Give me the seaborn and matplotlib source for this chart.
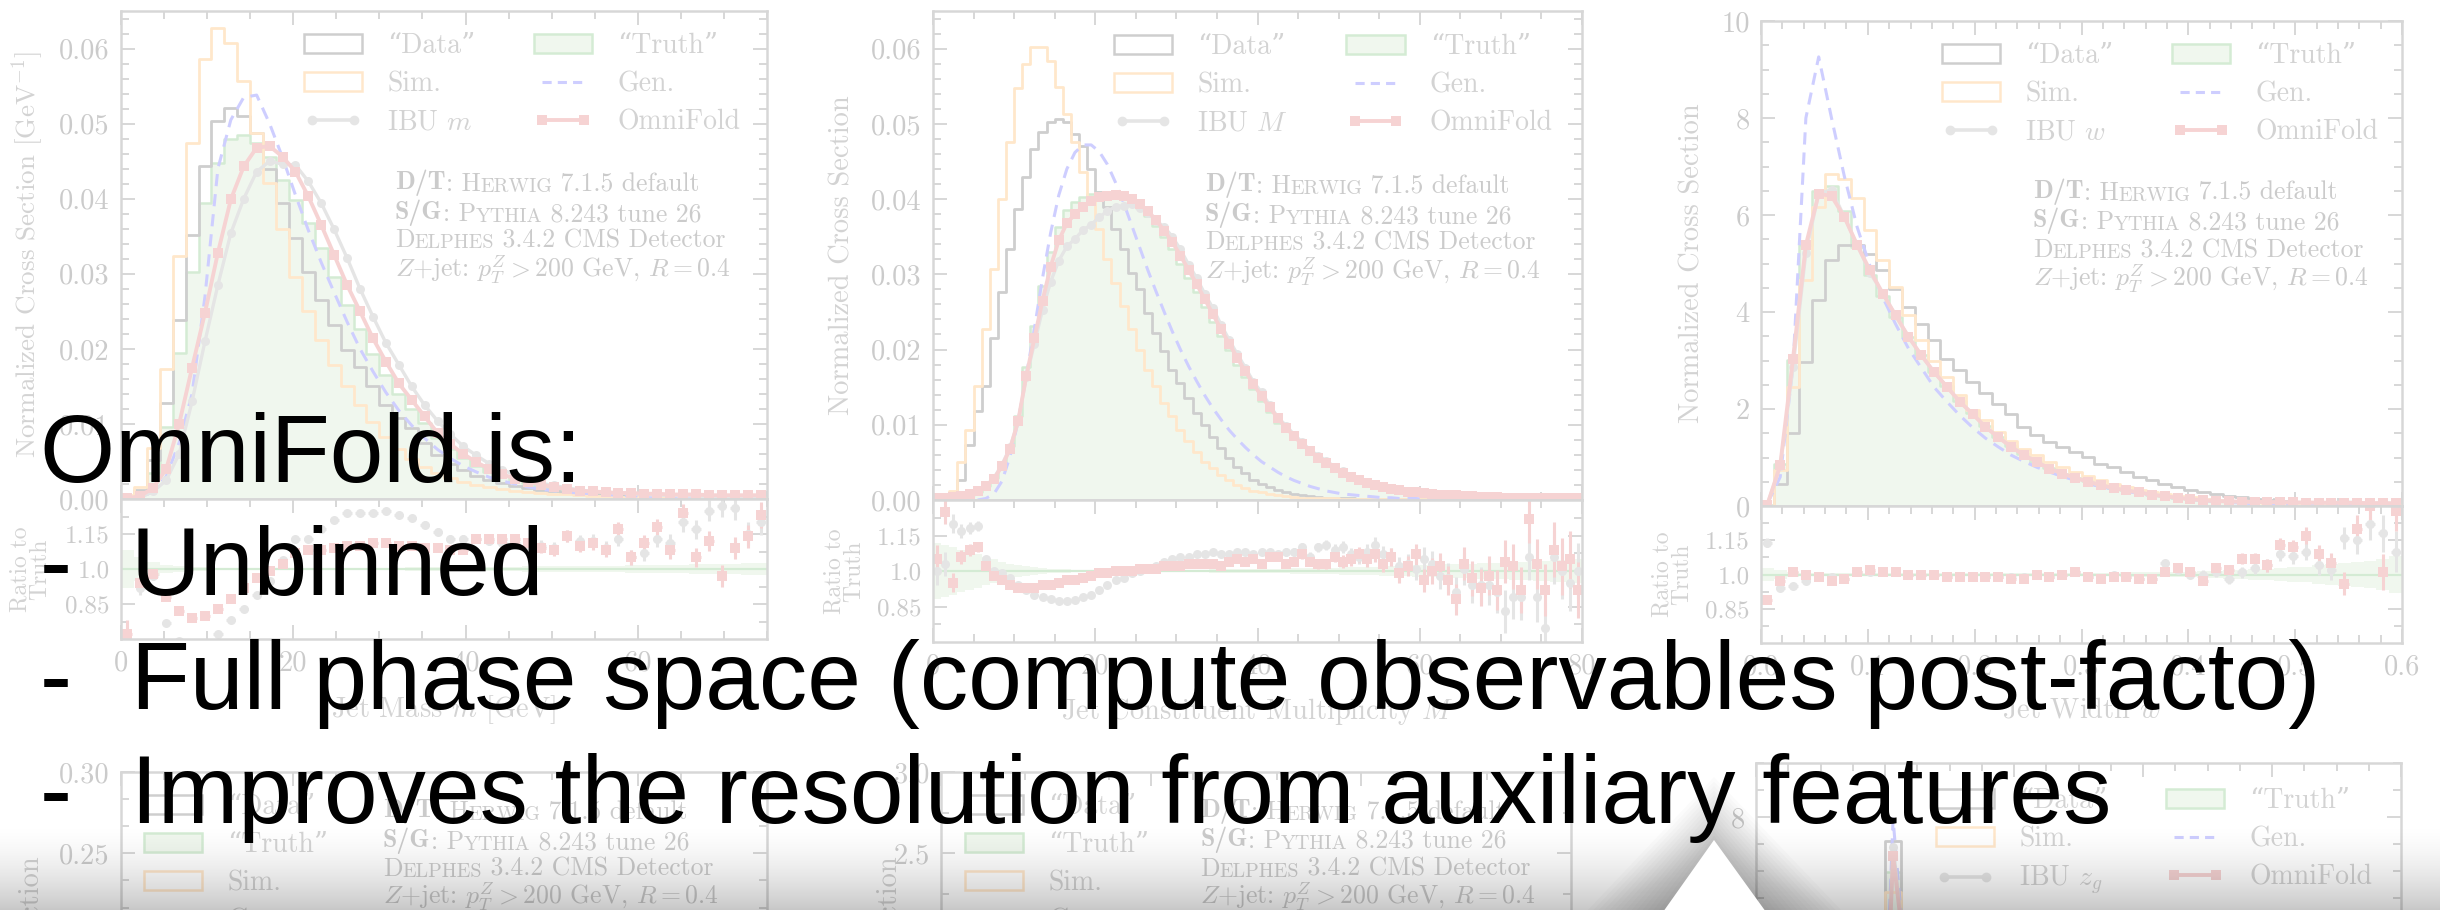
import numpy as np
import pandas as pd
import matplotlib
matplotlib.use("Agg")
import matplotlib.pyplot as plt
import seaborn as sns
from matplotlib.lines import Line2D
from matplotlib.patches import Patch, Rectangle, Polygon
from matplotlib.ticker import MultipleLocator, FixedLocator, FormatStrFormatter, FixedFormatter

W, H = 2440, 910

# ---------------------------------------------------------------- jet mass m
mass_range = (0.0, 75.0)
mass_data = [0.0003, 0.0012, 0.0052, 0.0128, 0.0239, 0.0352, 0.0443, 0.0503, 0.0521, 0.0510,
             0.0488, 0.0439, 0.0394, 0.0348, 0.0303, 0.0265, 0.0232, 0.0199, 0.0176, 0.0150,
             0.0125, 0.0108, 0.0094, 0.0074, 0.0058, 0.0047, 0.0038, 0.0031, 0.0025, 0.0021,
             0.0017, 0.0014, 0.0012, 0.0010, 0.0008, 0.0007, 0.0006, 0.0005, 0.0005, 0.0004,
             0.0004, 0.0003, 0.0003, 0.0003, 0.0002, 0.0002, 0.0002, 0.0002, 0.0001, 0.0001]
mass_sim = [0.0005, 0.0016, 0.0068, 0.0173, 0.0324, 0.0474, 0.0586, 0.0627, 0.0608, 0.0557,
            0.0488, 0.0421, 0.0359, 0.0296, 0.0250, 0.0212, 0.0179, 0.0150, 0.0125, 0.0103,
            0.0082, 0.0066, 0.0053, 0.0043, 0.0035, 0.0028, 0.0023, 0.0019, 0.0016, 0.0013,
            0.0011, 0.0009, 0.0008, 0.0007, 0.0006, 0.0005, 0.0004, 0.0004, 0.0003, 0.0003,
            0.0003, 0.0002, 0.0002, 0.0002, 0.0002, 0.0001, 0.0001, 0.0001, 0.0001, 0.0001]
mass_truth = [0.0002, 0.0008, 0.0035, 0.0096, 0.0194, 0.0303, 0.0394, 0.0448, 0.0479, 0.0485,
              0.0474, 0.0456, 0.0425, 0.0398, 0.0368, 0.0334, 0.0296, 0.0259, 0.0226, 0.0193,
              0.0165, 0.0140, 0.0120, 0.0101, 0.0081, 0.0067, 0.0055, 0.0044, 0.0036, 0.0030,
              0.0025, 0.0021, 0.0017, 0.0014, 0.0012, 0.0010, 0.0009, 0.0008, 0.0007, 0.0006,
              0.0006, 0.0005, 0.0005, 0.0004, 0.0004, 0.0004, 0.0003, 0.0003, 0.0003, 0.0003]
mass_gen = [0.0000, 0.0002, 0.0010, 0.0030, 0.0075, 0.0140, 0.0270, 0.0440, 0.0505, 0.0535,
            0.0538, 0.0500, 0.0455, 0.0405, 0.0358, 0.0315, 0.0275, 0.0236, 0.0200, 0.0170,
            0.0142, 0.0118, 0.0098, 0.0081, 0.0066, 0.0054, 0.0044, 0.0036, 0.0029, 0.0024,
            0.0020, 0.0016, 0.0013, 0.0011, 0.0009, 0.0008, 0.0007, 0.0006, 0.0005, 0.0004,
            0.0004, 0.0003, 0.0003, 0.0003, 0.0002, 0.0002, 0.0002, 0.0002, 0.0001, 0.0001]
mass_ibu = [0.0000, 0.0002, 0.0010, 0.0025, 0.0060, 0.0130, 0.0210, 0.0285, 0.0354, 0.0400,
            0.0436, 0.0450, 0.0446, 0.0445, 0.0423, 0.0394, 0.0359, 0.0321, 0.0280, 0.0243,
            0.0208, 0.0179, 0.0150, 0.0125, 0.0104, 0.0086, 0.0070, 0.0058, 0.0047, 0.0039,
            0.0032, 0.0026, 0.0021, 0.0018, 0.0015, 0.0012, 0.0010, 0.0009, 0.0008, 0.0007,
            0.0006, 0.0005, 0.0005, 0.0004, 0.0004, 0.0003, 0.0003, 0.0003, 0.0003, 0.0003]
mass_omnifold = [0.0001, 0.0004, 0.0015, 0.0040, 0.0100, 0.0175, 0.0248, 0.0328, 0.0399, 0.0443,
                 0.0468, 0.0470, 0.0456, 0.0436, 0.0403, 0.0365, 0.0325, 0.0285, 0.0250, 0.0214,
                 0.0183, 0.0154, 0.0132, 0.0110, 0.0088, 0.0073, 0.0060, 0.0049, 0.0040, 0.0033,
                 0.0027, 0.0023, 0.0019, 0.0016, 0.0013, 0.0011, 0.0010, 0.0009, 0.0008, 0.0008,
                 0.0007, 0.0007, 0.0006, 0.0006, 0.0006, 0.0005, 0.0005, 0.0005, 0.0005, 0.0005]
mass_ratio_omnifold = [0.72, 0.94, 0.98, 0.88, 0.82, 0.79, 0.80, 0.83, 0.87, 0.92,
                       0.96, 0.99, 1.02, 1.07, 1.08, 1.08, 1.09, 1.10, 1.10, 1.11,
                       1.11, 1.10, 1.10, 1.09, 1.09, 1.08, 1.08, 1.13, 1.13, 1.13,
                       1.13, 1.11, 1.09, 1.08, 1.14, 1.10, 1.11, 1.08, 1.17, 1.05,
                       1.11, 1.18, 1.08, 1.24, 1.05, 1.12, 0.97, 1.09, 1.14, 1.23]
mass_ratio_ibu = [0.66, 0.92, 0.97, 0.77, 0.69, 0.67, 0.67, 0.72, 0.78, 0.83,
                  0.89, 0.95, 1.04, 1.13, 1.13, 1.17, 1.21, 1.24, 1.24, 1.24,
                  1.25, 1.23, 1.22, 1.19, 1.16, 1.13, 1.13, 1.13, 1.12, 1.11,
                  1.11, 1.10, 1.10, 1.09, 1.14, 1.12, 1.12, 1.09, 1.13, 1.05,
                  1.07, 1.13, 1.11, 1.20, 1.17, 1.25, 1.27, 1.26, 1.15, 1.20]
mass_ratio_err = [0.060, 0.030, 0.016, 0.012, 0.010, 0.008, 0.007, 0.007, 0.007, 0.007,
                  0.007, 0.007, 0.007, 0.008, 0.008, 0.008, 0.009, 0.009, 0.010, 0.010,
                  0.011, 0.012, 0.013, 0.014, 0.015, 0.016, 0.017, 0.018, 0.019, 0.020,
                  0.021, 0.022, 0.023, 0.024, 0.026, 0.027, 0.028, 0.030, 0.031, 0.033,
                  0.034, 0.036, 0.038, 0.040, 0.042, 0.044, 0.046, 0.048, 0.050, 0.055]
mass_truth_unc = [0.080, 0.050, 0.030, 0.018, 0.012, 0.009, 0.007, 0.006, 0.005, 0.005,
                  0.005, 0.005, 0.005, 0.005, 0.005, 0.005, 0.005, 0.005, 0.006, 0.006,
                  0.006, 0.006, 0.007, 0.007, 0.007, 0.008, 0.008, 0.009, 0.009, 0.010,
                  0.010, 0.011, 0.011, 0.012, 0.012, 0.013, 0.014, 0.014, 0.015, 0.016,
                  0.016, 0.017, 0.018, 0.019, 0.020, 0.021, 0.022, 0.023, 0.024, 0.025]

# ---------------------------------------------------- constituent multiplicity M
mult_range = (0.0, 80.0)
mult_data = [0.0000, 0.0000, 0.0008, 0.0027, 0.0073, 0.0118, 0.0151, 0.0216, 0.0276, 0.0333,
             0.0387, 0.0429, 0.0467, 0.0489, 0.0502, 0.0507, 0.0502, 0.0487, 0.0471, 0.0440,
             0.0409, 0.0389, 0.0360, 0.0333, 0.0302, 0.0280, 0.0249, 0.0222, 0.0198, 0.0173,
             0.0156, 0.0136, 0.0116, 0.0100, 0.0084, 0.0069, 0.0056, 0.0044, 0.0036, 0.0027,
             0.0021, 0.0017, 0.0013, 0.0010, 0.0008, 0.0006, 0.0005, 0.0004, 0.0003, 0.0002,
             0.0002, 0.0002, 0.0001, 0.0001, 0.0001, 0.0001, 0.0001, 0.0001, 0.0001, 0.0001,
             0.0001, 0.0001, 0.0001, 0.0000, 0.0000, 0.0000, 0.0000, 0.0000, 0.0000, 0.0000,
             0.0000, 0.0000, 0.0000, 0.0000, 0.0000, 0.0000, 0.0000, 0.0000, 0.0000, 0.0000]
mult_sim = [0.0000, 0.0000, 0.0012, 0.0051, 0.0093, 0.0151, 0.0227, 0.0307, 0.0400, 0.0476,
            0.0547, 0.0580, 0.0602, 0.0602, 0.0584, 0.0549, 0.0513, 0.0476, 0.0436, 0.0400,
            0.0360, 0.0320, 0.0289, 0.0258, 0.0227, 0.0200, 0.0173, 0.0151, 0.0129, 0.0111,
            0.0093, 0.0078, 0.0064, 0.0051, 0.0042, 0.0033, 0.0027, 0.0020, 0.0016, 0.0012,
            0.0010, 0.0008, 0.0006, 0.0005, 0.0004, 0.0003, 0.0003, 0.0002, 0.0002, 0.0002,
            0.0001, 0.0001, 0.0001, 0.0001, 0.0001, 0.0001, 0.0001, 0.0001, 0.0001, 0.0001,
            0.0001, 0.0001, 0.0001, 0.0001, 0.0001, 0.0000, 0.0000, 0.0000, 0.0000, 0.0000,
            0.0000, 0.0000, 0.0000, 0.0000, 0.0000, 0.0000, 0.0000, 0.0000, 0.0000, 0.0000]
mult_truth = [0.0002, 0.0003, 0.0004, 0.0005, 0.0007, 0.0011, 0.0018, 0.0029, 0.0047, 0.0072,
              0.0112, 0.0177, 0.0231, 0.0284, 0.0330, 0.0363, 0.0385, 0.0396, 0.0403, 0.0407,
              0.0409, 0.0408, 0.0406, 0.0403, 0.0397, 0.0388, 0.0377, 0.0364, 0.0349, 0.0333,
              0.0314, 0.0295, 0.0276, 0.0256, 0.0236, 0.0218, 0.0199, 0.0180, 0.0163, 0.0147,
              0.0132, 0.0117, 0.0103, 0.0092, 0.0081, 0.0070, 0.0062, 0.0054, 0.0047, 0.0040,
              0.0035, 0.0030, 0.0026, 0.0022, 0.0019, 0.0017, 0.0014, 0.0013, 0.0011, 0.0010,
              0.0009, 0.0008, 0.0007, 0.0006, 0.0006, 0.0005, 0.0005, 0.0004, 0.0004, 0.0004,
              0.0003, 0.0003, 0.0003, 0.0003, 0.0003, 0.0002, 0.0002, 0.0002, 0.0002, 0.0002]
mult_gen = [0.0000, 0.0000, 0.0000, 0.0000, 0.0000, 0.0000, 0.0002, 0.0008, 0.0025, 0.0058,
            0.0105, 0.0165, 0.0228, 0.0295, 0.0355, 0.0405, 0.0440, 0.0462, 0.0472, 0.0472,
            0.0463, 0.0446, 0.0422, 0.0395, 0.0365, 0.0335, 0.0305, 0.0277, 0.0250, 0.0224,
            0.0200, 0.0178, 0.0158, 0.0139, 0.0122, 0.0107, 0.0093, 0.0081, 0.0070, 0.0060,
            0.0051, 0.0044, 0.0037, 0.0031, 0.0026, 0.0022, 0.0018, 0.0015, 0.0012, 0.0010,
            0.0008, 0.0007, 0.0006, 0.0005, 0.0004, 0.0003, 0.0003, 0.0002, 0.0002, 0.0002,
            0.0001, 0.0001, 0.0001, 0.0001, 0.0001, 0.0000, 0.0000, 0.0000, 0.0000, 0.0000,
            0.0000, 0.0000, 0.0000, 0.0000, 0.0000, 0.0000, 0.0000, 0.0000, 0.0000, 0.0000]
mult_ibu = [0.0002, 0.0003, 0.0005, 0.0006, 0.0008, 0.0013, 0.0019, 0.0029, 0.0047, 0.0070,
            0.0105, 0.0163, 0.0208, 0.0253, 0.0290, 0.0318, 0.0337, 0.0347, 0.0359, 0.0366,
            0.0376, 0.0384, 0.0390, 0.0391, 0.0393, 0.0388, 0.0381, 0.0371, 0.0363, 0.0350,
            0.0333, 0.0313, 0.0295, 0.0274, 0.0255, 0.0233, 0.0213, 0.0194, 0.0176, 0.0157,
            0.0143, 0.0126, 0.0110, 0.0099, 0.0087, 0.0077, 0.0066, 0.0059, 0.0052, 0.0044,
            0.0038, 0.0032, 0.0028, 0.0024, 0.0021, 0.0018, 0.0015, 0.0013, 0.0011, 0.0010,
            0.0009, 0.0008, 0.0007, 0.0006, 0.0005, 0.0004, 0.0005, 0.0004, 0.0004, 0.0003,
            0.0003, 0.0003, 0.0003, 0.0003, 0.0003, 0.0002, 0.0002, 0.0002, 0.0002, 0.0002]
mult_omnifold = [0.0002, 0.0003, 0.0004, 0.0005, 0.0008, 0.0012, 0.0018, 0.0028, 0.0045, 0.0068,
                 0.0105, 0.0165, 0.0215, 0.0265, 0.0310, 0.0345, 0.0368, 0.0380, 0.0390, 0.0398,
                 0.0403, 0.0404, 0.0405, 0.0404, 0.0400, 0.0393, 0.0384, 0.0372, 0.0358, 0.0343,
                 0.0325, 0.0306, 0.0287, 0.0267, 0.0247, 0.0227, 0.0208, 0.0189, 0.0171, 0.0154,
                 0.0138, 0.0123, 0.0109, 0.0096, 0.0085, 0.0074, 0.0065, 0.0056, 0.0049, 0.0042,
                 0.0036, 0.0031, 0.0027, 0.0023, 0.0020, 0.0017, 0.0015, 0.0013, 0.0011, 0.0010,
                 0.0009, 0.0008, 0.0007, 0.0006, 0.0006, 0.0005, 0.0005, 0.0004, 0.0004, 0.0004,
                 0.0003, 0.0003, 0.0003, 0.0003, 0.0003, 0.0003, 0.0002, 0.0002, 0.0002, 0.0002]
mult_ratio_omnifold = [1.05, 1.25, 0.95, 1.06, 1.09, 1.10, 1.02, 0.98, 0.96, 0.94,
                       0.93, 0.93, 0.93, 0.94, 0.94, 0.95, 0.96, 0.96, 0.97, 0.98,
                       0.99, 0.99, 1.00, 1.00, 1.00, 1.01, 1.01, 1.01, 1.02, 1.02,
                       1.02, 1.03, 1.03, 1.03, 1.03, 1.02, 1.04, 1.05, 1.04, 1.05,
                       1.03, 1.06, 1.06, 1.03, 1.04, 1.07, 1.04, 1.03, 1.03, 1.06,
                       1.04, 1.05, 1.07, 1.05, 1.07, 1.03, 1.06, 0.99, 1.02, 1.07,
                       0.96, 1.00, 1.02, 0.96, 0.88, 1.03, 0.97, 0.93, 0.98, 0.92,
                       1.04, 1.02, 0.92, 1.22, 1.03, 0.92, 1.09, 1.02, 1.05, 0.92]
mult_ratio_ibu = [1.00, 1.03, 1.20, 1.17, 1.18, 1.19, 1.05, 1.00, 0.99, 0.97,
                  0.94, 0.92, 0.90, 0.89, 0.88, 0.875, 0.875, 0.876, 0.89, 0.90,
                  0.92, 0.94, 0.96, 0.97, 0.99, 1.00, 1.01, 1.02, 1.04, 1.05,
                  1.06, 1.06, 1.07, 1.07, 1.08, 1.07, 1.07, 1.08, 1.08, 1.07,
                  1.08, 1.08, 1.07, 1.08, 1.08, 1.10, 1.06, 1.10, 1.11, 1.09,
                  1.10, 1.07, 1.06, 1.08, 1.11, 1.07, 1.06, 1.02, 1.03, 1.01,
                  1.05, 1.03, 0.98, 0.97, 0.91, 1.01, 0.94, 0.94, 0.94, 0.91,
                  0.83, 0.89, 0.89, 1.06, 0.89, 0.76, 1.06, 1.00, 0.95, 1.00]
mult_ratio_err = [0.060, 0.050, 0.040, 0.030, 0.025, 0.020, 0.015, 0.012, 0.010, 0.009,
                  0.008, 0.007, 0.007, 0.006, 0.006, 0.006, 0.006, 0.006, 0.006, 0.006,
                  0.006, 0.006, 0.006, 0.006, 0.006, 0.006, 0.007, 0.007, 0.007, 0.007,
                  0.008, 0.008, 0.008, 0.009, 0.009, 0.010, 0.010, 0.011, 0.012, 0.012,
                  0.013, 0.014, 0.015, 0.016, 0.017, 0.018, 0.019, 0.020, 0.022, 0.024,
                  0.026, 0.028, 0.030, 0.032, 0.034, 0.036, 0.038, 0.040, 0.043, 0.046,
                  0.050, 0.054, 0.058, 0.062, 0.066, 0.070, 0.074, 0.078, 0.082, 0.086,
                  0.090, 0.094, 0.098, 0.100, 0.105, 0.110, 0.115, 0.120, 0.120, 0.120]
mult_truth_unc = [0.120, 0.110, 0.100, 0.090, 0.080, 0.070, 0.060, 0.050, 0.040, 0.030,
                  0.025, 0.020, 0.015, 0.012, 0.010, 0.008, 0.007, 0.006, 0.005, 0.005,
                  0.005, 0.005, 0.005, 0.005, 0.005, 0.005, 0.005, 0.005, 0.005, 0.005,
                  0.006, 0.006, 0.006, 0.006, 0.007, 0.007, 0.007, 0.008, 0.008, 0.008,
                  0.009, 0.009, 0.010, 0.010, 0.011, 0.011, 0.012, 0.012, 0.013, 0.014,
                  0.015, 0.016, 0.017, 0.018, 0.019, 0.020, 0.021, 0.022, 0.023, 0.024,
                  0.025, 0.026, 0.027, 0.028, 0.029, 0.030, 0.031, 0.032, 0.033, 0.034,
                  0.035, 0.036, 0.038, 0.040, 0.042, 0.044, 0.046, 0.048, 0.050, 0.050]

# ---------------------------------------------------------------- jet width w
width_range = (0.0, 0.6)
width_data = [0.00, 0.45, 1.50, 2.97, 4.24, 5.07, 5.39, 5.39, 5.20, 4.86,
              4.48, 4.10, 3.76, 3.42, 3.04, 2.80, 2.56, 2.32, 2.11, 1.90,
              1.63, 1.46, 1.32, 1.22, 1.11, 1.01, 0.87, 0.80, 0.70, 0.60,
              0.53, 0.46, 0.39, 0.34, 0.29, 0.25, 0.21, 0.18, 0.15, 0.13,
              0.11, 0.09, 0.08, 0.07, 0.06, 0.05, 0.04, 0.035, 0.03, 0.025]
width_sim = [0.00, 0.74, 2.46, 4.66, 6.17, 6.84, 6.75, 6.36, 5.70, 5.08,
             4.52, 3.93, 3.42, 3.00, 2.66, 2.28, 1.97, 1.77, 1.53, 1.35,
             1.18, 1.05, 0.91, 0.80, 0.70, 0.61, 0.53, 0.46, 0.39, 0.34,
             0.29, 0.25, 0.21, 0.18, 0.15, 0.13, 0.11, 0.095, 0.08, 0.07,
             0.06, 0.05, 0.045, 0.04, 0.035, 0.03, 0.025, 0.02, 0.018, 0.015]
width_truth = [0.03, 0.87, 3.01, 5.38, 6.50, 6.59, 6.08, 5.33, 4.76, 4.34,
               3.89, 3.49, 3.11, 2.76, 2.48, 2.17, 1.92, 1.65, 1.43, 1.24,
               1.07, 0.91, 0.78, 0.67, 0.57, 0.51, 0.44, 0.37, 0.32, 0.29,
               0.235, 0.198, 0.165, 0.139, 0.124, 0.097, 0.093, 0.084, 0.079, 0.077,
               0.069, 0.067, 0.062, 0.064, 0.065, 0.068, 0.052, 0.046, 0.057, 0.043]
width_gen = [0.05, 0.60, 2.90, 8.00, 9.26, 8.00, 6.80, 5.75, 4.95, 4.30,
             3.75, 3.25, 2.85, 2.45, 2.15, 1.87, 1.62, 1.40, 1.22, 1.05,
             0.92, 0.80, 0.70, 0.61, 0.53, 0.46, 0.40, 0.35, 0.30, 0.26,
             0.22, 0.19, 0.16, 0.13, 0.11, 0.09, 0.075, 0.06, 0.05, 0.04,
             0.035, 0.03, 0.025, 0.02, 0.018, 0.015, 0.012, 0.01, 0.008, 0.006]
width_ibu = [0.04, 0.82, 2.86, 5.22, 6.44, 6.52, 5.96, 5.38, 4.81, 4.38,
             3.93, 3.49, 3.11, 2.76, 2.46, 2.15, 1.90, 1.63, 1.42, 1.23,
             1.06, 0.91, 0.77, 0.67, 0.58, 0.50, 0.43, 0.37, 0.32, 0.28,
             0.23, 0.21, 0.17, 0.14, 0.12, 0.10, 0.09, 0.085, 0.08, 0.08,
             0.075, 0.072, 0.068, 0.067, 0.066, 0.079, 0.077, 0.056, 0.067, 0.047]
width_omnifold = [0.03, 0.84, 3.04, 5.38, 6.44, 6.39, 5.96, 5.38, 4.86, 4.38,
                  3.93, 3.49, 3.11, 2.76, 2.46, 2.15, 1.90, 1.63, 1.42, 1.22,
                  1.05, 0.91, 0.77, 0.67, 0.58, 0.50, 0.43, 0.37, 0.32, 0.28,
                  0.23, 0.20, 0.17, 0.14, 0.12, 0.10, 0.095, 0.09, 0.085, 0.08,
                  0.078, 0.075, 0.072, 0.070, 0.068, 0.065, 0.062, 0.060, 0.058, 0.055]
width_ratio_omnifold = [0.89, 0.97, 1.01, 1.00, 0.99, 0.97, 0.98, 1.01, 1.02, 1.01,
                        1.01, 1.00, 1.00, 1.00, 0.99, 0.99, 0.99, 0.99, 0.99, 0.98,
                        0.98, 1.00, 0.99, 1.00, 1.01, 0.99, 0.98, 0.99, 0.99, 0.98,
                        0.98, 1.01, 1.03, 1.01, 0.97, 1.03, 1.02, 1.07, 1.07, 1.04,
                        1.13, 1.12, 1.17, 1.09, 1.05, 0.96, 1.20, 1.30, 1.01, 1.28]
width_ratio_ibu = [1.14, 0.94, 0.95, 0.97, 0.99, 0.99, 0.98, 1.01, 1.01, 1.01,
                   1.01, 1.00, 1.00, 1.00, 0.99, 0.99, 0.99, 0.99, 0.99, 0.99,
                   0.99, 1.00, 0.99, 1.00, 1.01, 0.99, 0.98, 1.00, 0.99, 0.98,
                   0.98, 1.05, 1.02, 1.00, 1.00, 1.01, 0.98, 1.01, 1.03, 1.04,
                   1.09, 1.08, 1.10, 1.04, 1.02, 1.16, 1.15, 1.22, 1.18, 1.10]
width_ratio_err = [0.020, 0.012, 0.008, 0.006, 0.005, 0.005, 0.005, 0.005, 0.005, 0.005,
                   0.005, 0.005, 0.005, 0.005, 0.006, 0.006, 0.006, 0.006, 0.006, 0.007,
                   0.007, 0.007, 0.008, 0.008, 0.009, 0.009, 0.010, 0.010, 0.011, 0.012,
                   0.013, 0.014, 0.015, 0.016, 0.018, 0.020, 0.022, 0.024, 0.026, 0.028,
                   0.030, 0.033, 0.036, 0.040, 0.045, 0.050, 0.060, 0.070, 0.080, 0.090]
width_truth_unc = [0.030, 0.020, 0.012, 0.008, 0.006, 0.005, 0.005, 0.005, 0.005, 0.005,
                   0.005, 0.005, 0.005, 0.005, 0.005, 0.005, 0.005, 0.005, 0.005, 0.005,
                   0.006, 0.006, 0.006, 0.007, 0.007, 0.007, 0.008, 0.008, 0.009, 0.009,
                   0.010, 0.011, 0.012, 0.013, 0.014, 0.016, 0.018, 0.020, 0.022, 0.025,
                   0.028, 0.031, 0.035, 0.040, 0.045, 0.050, 0.055, 0.060, 0.070, 0.080]

# -------------------------------------------------- groomed momentum fraction z_g
zg_range = (0.0, 0.5)
zg_data = [0, 0, 0, 0, 0, 0, 0, 0,
           7.55, 4.95, 4.00, 3.35, 2.90, 2.55, 2.28, 2.06, 1.88, 1.73,
           1.61, 1.51, 1.42, 1.35, 1.28, 1.22, 1.17, 1.12, 1.08, 1.05,
           1.02, 0.99, 0.96, 0.94, 0.92, 0.90, 0.88, 0.86, 0.85, 0.84, 0.83, 0.82]
zg_sim = [0, 0, 0, 0, 0, 0, 0, 0,
          6.60, 4.80, 4.00, 3.40, 2.95, 2.60, 2.33, 2.12, 1.94, 1.79,
          1.67, 1.57, 1.48, 1.40, 1.33, 1.27, 1.22, 1.17, 1.13, 1.09,
          1.06, 1.03, 1.00, 0.98, 0.96, 0.94, 0.92, 0.90, 0.88, 0.87, 0.86, 0.85]
zg_truth = [0, 0, 0, 0, 0, 0, 0, 0,
            6.98, 4.70, 3.90, 3.30, 2.90, 2.55, 2.30, 2.10, 1.92, 1.78,
            1.66, 1.56, 1.47, 1.40, 1.33, 1.27, 1.22, 1.17, 1.13, 1.09,
            1.06, 1.03, 1.00, 0.98, 0.96, 0.94, 0.92, 0.90, 0.88, 0.86, 0.85, 0.84]
zg_gen = [0, 0, 0, 0, 0, 0, 0, 0,
          7.96, 4.40, 3.60, 3.05, 2.65, 2.35, 2.12, 1.93, 1.78, 1.65,
          1.54, 1.45, 1.37, 1.30, 1.24, 1.19, 1.14, 1.10, 1.06, 1.03,
          1.00, 0.97, 0.95, 0.93, 0.91, 0.89, 0.87, 0.86, 0.85, 0.84, 0.83, 0.82]
zg_ibu = [0, 0, 0, 0, 0, 0, 0, 0,
          7.45, 4.75, 3.92, 3.30, 2.88, 2.54, 2.28, 2.08, 1.91, 1.77,
          1.65, 1.55, 1.46, 1.39, 1.32, 1.26, 1.21, 1.16, 1.12, 1.08,
          1.05, 1.02, 0.99, 0.97, 0.95, 0.93, 0.91, 0.89, 0.87, 0.86, 0.85, 0.84]
zg_omnifold = [0, 0, 0, 0, 0, 0, 0, 0,
               7.28, 4.72, 3.91, 3.31, 2.90, 2.55, 2.30, 2.10, 1.92, 1.78,
               1.66, 1.56, 1.47, 1.40, 1.33, 1.27, 1.22, 1.17, 1.13, 1.09,
               1.06, 1.03, 1.00, 0.98, 0.96, 0.94, 0.92, 0.90, 0.88, 0.86, 0.85, 0.84]

# ------------------------------------------------------------------ text
sample_lines = [
    [("D/T", "bf"), (": H", "rm"), ("ERWIG", "sc"), (" 7.1.5 default", "rm")],
    [("S/G", "bf"), (": P", "rm"), ("YTHIA", "sc"), (" 8.243 tune 26", "rm")],
    [("D", "rm"), ("ELPHES", "sc"), (" 3.4.2 CMS Detector", "rm")],
    [(r"$Z$+jet: $p_T^Z > 200$ GeV, $R = 0.4$", "rm")],
]
slide_title = "OmniFold is:"
slide_bullets = ["Unbinned",
                 "Full phase space (compute observables post-facto)",
                 "Improves the resolution from auxiliary features"]

# ------------------------------------------------------------------ style
sns.set_theme(style="ticks")
plt.rcParams.update({
    "font.family": ["cmr10", "DejaVu Serif"],
    "mathtext.fontset": "cm",
    "axes.formatter.use_mathtext": True,
    "axes.unicode_minus": False,
    "axes.facecolor": "white",
    "figure.facecolor": "white",
})

DATA_C = "#111111"
SIM_C = "#ff8c00"
TRUTH_FILL = "#b8dbae"
TRUTH_EDGE = "#2ca02c"
GEN_C = "#1010ff"
IBU_C = "#808080"
OMNI_C = "#d62728"
SPINE_C = "#3a3a3a"

fig = plt.figure(figsize=(W / 100, H / 100), dpi=100)


def px_axes(x0, x1, y0, y1):
    return fig.add_axes([x0 / W, 1 - y1 / H, (x1 - x0) / W, (y1 - y0) / H])


def style(ax, xmaj, xmin, ymaj, ymin, labelsize=20.5):
    for s in ax.spines.values():
        s.set_color(SPINE_C)
        s.set_linewidth(1.8)
    ax.tick_params(which="both", direction="in", top=True, right=True,
                   color=SPINE_C, width=1.4, labelsize=labelsize, labelcolor="black", pad=8)
    ax.tick_params(which="major", length=10)
    ax.tick_params(which="minor", length=5.5)
    ax.xaxis.set_major_locator(MultipleLocator(xmaj))
    ax.xaxis.set_minor_locator(MultipleLocator(xmin))
    if ymaj is not None:
        ax.yaxis.set_major_locator(MultipleLocator(ymaj))
        ax.yaxis.set_minor_locator(MultipleLocator(ymin))
    ax.grid(False)


def edges_of(rng, n):
    return np.linspace(rng[0], rng[1], n + 1)


def step_hist(ax, centers, edges, values, **kw):
    frame = pd.DataFrame({"x": centers, "w": np.asarray(values, dtype=float)})
    sns.histplot(data=frame, x="x", weights="w", bins=list(edges), element="step", ax=ax, **kw)


def draw_main(ax, rng, data, sim, truth, gen, ibu, omni):
    edges = edges_of(rng, len(truth))
    centers = 0.5 * (edges[1:] + edges[:-1])
    step_hist(ax, centers, edges, truth, fill=True, color=TRUTH_FILL, alpha=1.0, linewidth=0)
    step_hist(ax, centers, edges, truth, fill=False, color=TRUTH_EDGE, linewidth=1.8)
    step_hist(ax, centers, edges, data, fill=False, color=DATA_C, linewidth=2.0)
    step_hist(ax, centers, edges, sim, fill=False, color=SIM_C, linewidth=2.0)
    sns.lineplot(x=centers, y=np.asarray(gen, float), color=GEN_C, linewidth=2.2, ax=ax)
    ax.lines[-1].set_linestyle((0, (4.0, 2.6)))
    sns.lineplot(x=centers, y=np.asarray(ibu, float), color=IBU_C, linewidth=2.4, marker="o",
                 markersize=6.5, markeredgewidth=0, ax=ax)
    sns.lineplot(x=centers, y=np.asarray(omni, float), color=OMNI_C, linewidth=2.8, marker="s",
                 markersize=6.5, markeredgewidth=0, ax=ax)
    ax.set_xlim(*rng)
    ax.set_xlabel("")
    ax.set_ylabel("")


def draw_ratio(ax, rng, unc, r_ibu, r_omni, err):
    edges = edges_of(rng, len(r_omni))
    centers = 0.5 * (edges[1:] + edges[:-1])
    half = 0.36 * np.diff(edges)
    unc = np.asarray(unc)
    ax.fill_between(edges, np.append(1 - unc, 1 - unc[-1]), np.append(1 + unc, 1 + unc[-1]),
                    step="post", color=TRUTH_FILL, linewidth=0)
    ax.axhline(1.0, color=TRUTH_EDGE, linewidth=1.6)
    ax.errorbar(centers, r_ibu, yerr=err, xerr=half, fmt="o", color=IBU_C, ms=6.5,
                mew=0, elinewidth=2.2, capsize=3.2, capthick=2.0)
    ax.errorbar(centers, r_omni, yerr=err, xerr=half, fmt="s", color=OMNI_C, ms=6.5,
                mew=0, elinewidth=2.2, capsize=3.2, capthick=2.0)
    ax.set_xlim(*rng)
    ax.set_ylim(0.7, 1.3)
    ax.set_ylabel("Ratio to\nTruth", fontsize=17, linespacing=0.85)


def ratio_ticks(ax):
    ax.yaxis.set_major_locator(FixedLocator([0.85, 1.0, 1.15]))
    ax.yaxis.set_major_formatter(FixedFormatter(["0.85", "1.0", "1.15"]))
    ax.yaxis.set_minor_locator(FixedLocator([0.775, 0.925, 1.075, 1.225]))
    ax.tick_params(axis="y", labelsize=18)


def handles_for(ibu_label):
    h = {
        "data": Patch(facecolor="none", edgecolor=DATA_C, linewidth=1.8),
        "truth": Patch(facecolor=TRUTH_FILL, edgecolor=TRUTH_EDGE, linewidth=1.8),
        "sim": Patch(facecolor="none", edgecolor=SIM_C, linewidth=1.8),
        "gen": Line2D([], [], color=GEN_C, linewidth=2.2, linestyle=(0, (3.0, 2.0))),
        "ibu": Line2D([], [], color=IBU_C, linewidth=2.6, marker="o", markersize=7, mew=0),
        "omni": Line2D([], [], color=OMNI_C, linewidth=2.8, marker="s", markersize=7, mew=0),
    }
    labels = {"data": "\u201cData\u201d", "truth": "\u201cTruth\u201d", "sim": "Sim.",
              "gen": "Gen.", "ibu": ibu_label, "omni": "OmniFold"}
    return h, labels


def add_legend(ax, ibu_label, x_px, top_px, ncol):
    h, lab = handles_for(ibu_label)
    order = ["data", "sim", "ibu", "truth", "gen", "omni"] if ncol == 2 else \
            ["data", "truth", "sim", "gen", "ibu", "omni"]
    ax.legend([h[k] for k in order], [lab[k] for k in order], ncol=ncol,
              loc="upper left", bbox_to_anchor=(x_px / W, 1 - top_px / H),
              bbox_transform=fig.transFigure, frameon=False, fontsize=20,
              handlelength=2.1, handleheight=0.7, handletextpad=0.9,
              columnspacing=2.1, labelspacing=0.42, borderpad=0, borderaxespad=0,
              numpoints=2)


def text_block(ax, x_px, row_centers, size=18.5):
    for pieces, yc in zip(sample_lines, row_centers):
        prev = None
        for txt, kind in pieces:
            fam = ["cmb10"] if kind == "bf" else ["cmr10", "DejaVu Serif"]
            fs = size * 0.78 if kind == "sc" else size
            if prev is None:
                prev = ax.annotate(txt, xy=(x_px, H - yc - 9), xycoords="figure pixels",
                                   va="baseline", ha="left", fontsize=fs, family=fam,
                                   color="black", annotation_clip=False)
            else:
                prev = ax.annotate(txt, xy=(1, 0), xycoords=prev, va="bottom", ha="left",
                                   fontsize=fs, family=fam, color="black",
                                   annotation_clip=False)


def place_ylabel(ax, right_px, x0, x1):
    # y labels are anchored on their right-hand edge
    ax.yaxis.set_label_coords((right_px - x0) / (x1 - x0), 0.5)


# ---------------------------------------------------------------- top row
panels = [
    dict(main=(121, 767, 11, 499), ratio=(121, 767, 499, 639), rng=mass_range,
         series=(mass_data, mass_sim, mass_truth, mass_gen, mass_ibu, mass_omnifold),
         ratio_series=(mass_truth_unc, mass_ratio_ibu, mass_ratio_omnifold, mass_ratio_err),
         ylim=(0, 0.065), ymaj=0.01, ymin=0.002, yfmt="%.2f", xmaj=20, xmin=5, xfmt="%d",
         ylabel="Normalized Cross Section [GeV$^{-1}$]", ylabel_size=19.5,
         xlabel="Jet Mass $m$ [GeV]",
         ibu="IBU $m$", leg=(304, 33), txt=(395, [180, 210, 238, 268]),
         ylab_r=46, rlab_r=51),
    dict(main=(933, 1582, 11, 500), ratio=(933, 1582, 500, 642), rng=mult_range,
         series=(mult_data, mult_sim, mult_truth, mult_gen, mult_ibu, mult_omnifold),
         ratio_series=(mult_truth_unc, mult_ratio_ibu, mult_ratio_omnifold, mult_ratio_err),
         ylim=(0, 0.065), ymaj=0.01, ymin=0.002, yfmt="%.2f", xmaj=20, xmin=5, xfmt="%d",
         ylabel="Normalized Cross Section", ylabel_size=20.5,
         xlabel="Jet Constituent Multiplicity $M$",
         ibu="IBU $M$", leg=(1114, 34), txt=(1205, [182, 212, 240, 270]),
         ylab_r=855, rlab_r=865),
    dict(main=(1761, 2402, 21, 506), ratio=(1761, 2402, 506, 643), rng=width_range,
         series=(width_data, width_sim, width_truth, width_gen, width_ibu, width_omnifold),
         ratio_series=(width_truth_unc, width_ratio_ibu, width_ratio_omnifold, width_ratio_err),
         ylim=(0, 10), ymaj=2, ymin=0.5, yfmt="%d", xmaj=0.1, xmin=0.02, xfmt="%.1f",
         ylabel="Normalized Cross Section", ylabel_size=20.5, xlabel="Jet Width $w$",
         ibu="IBU $w$", leg=(1942, 43), txt=(2033, [189, 218, 248, 277]),
         ylab_r=1706, rlab_r=1693),
]

for p in panels:
    x0, x1, y0, y1 = p["main"]
    ax = px_axes(x0, x1, y0, y1)
    draw_main(ax, p["rng"], *p["series"])
    ax.set_ylim(*p["ylim"])
    style(ax, p["xmaj"], p["xmin"], p["ymaj"], p["ymin"])
    ax.yaxis.set_major_formatter(FormatStrFormatter(p["yfmt"]))
    ax.tick_params(labelbottom=False)
    ax.set_ylabel(p["ylabel"], fontsize=p["ylabel_size"])
    place_ylabel(ax, p["ylab_r"], x0, x1)
    add_legend(ax, p["ibu"], p["leg"][0], p["leg"][1], 2)
    text_block(ax, p["txt"][0], p["txt"][1])

    rx0, rx1, ry0, ry1 = p["ratio"]
    rax = px_axes(rx0, rx1, ry0, ry1)
    draw_ratio(rax, p["rng"], *p["ratio_series"])
    style(rax, p["xmaj"], p["xmin"], None, None)
    ratio_ticks(rax)
    rax.xaxis.set_major_formatter(FormatStrFormatter(p["xfmt"]))
    rax.set_xlabel(p["xlabel"], fontsize=20.5, labelpad=12)
    place_ylabel(rax, p["rlab_r"], rx0, rx1)

# ------------------------------------------------------------- bottom row
b1 = px_axes(121, 767, 772, 1260)
b1.set_xlim(0, 15)
b1.set_ylim(0, 0.30)
style(b1, 4, 1, 0.05, 0.05 / 3)
b1.yaxis.set_major_formatter(FormatStrFormatter("%.2f"))
b1.set_ylabel("Normalized Cross Section", fontsize=20.5)
place_ylabel(b1, 46, 121, 767)
add_legend(b1, r"IBU $\ln\rho$", 144, 794, 1)
text_block(b1, 383, [808, 838, 867, 895])

b2 = px_axes(941, 1571, 772, 1260)
b2.set_xlim(0, 1.5)
b2.set_ylim(0, 3.0)
style(b2, 0.5, 0.1, 0.5, 0.25)
b2.yaxis.set_major_formatter(FormatStrFormatter("%.1f"))
b2.set_ylabel("Normalized Cross Section", fontsize=20.5)
place_ylabel(b2, 903, 941, 1571)
add_legend(b2, r"IBU $\tau_{21}$", 965, 794, 1)
text_block(b2, 1200, [808, 837, 867, 895])

b3 = px_axes(1756, 2401, 763, 1248)
draw_main(b3, zg_range, zg_data, zg_sim, zg_truth, zg_gen, zg_ibu, zg_omnifold)
b3.set_ylim(0, 9)
style(b3, 0.1, 0.025, 2, 0.5)
b3.yaxis.set_major_formatter(FormatStrFormatter("%d"))
add_legend(b3, "IBU $z_g$", 1936, 788, 2)

# ------------------------------------------------- slide layer on top
ov = fig.add_axes([0, 0, 1, 1], zorder=10)
ov.patch.set_alpha(0)
ov.axis("off")
ov.add_patch(Rectangle((0, 0), W, H, facecolor="white", alpha=0.8, linewidth=0, zorder=1))

# soft shadow along the lower edge
ramp = np.linspace(0, 1, 90)[:, None]
shade = np.zeros((90, 1, 4))
shade[..., 3] = 0.22 * ramp ** 1.7
ov.imshow(shade, extent=(0, W, H, H - 90), aspect="auto", interpolation="bilinear", zorder=2)

# pointer with its blurred shadow
apex_x, apex_y, base_l, base_r = 1714, 840, 1663, 1766
for d in range(70, 0, -5):
    ov.add_patch(Polygon([(apex_x, apex_y - 0.9 * d), (base_l - 1.1 * d, H + 2),
                          (base_r + 1.1 * d, H + 2)],
                         closed=True, facecolor="black", alpha=0.016, linewidth=0, zorder=3))
ov.add_patch(Polygon([(apex_x, apex_y), (base_l, H + 2), (base_r, H + 2)], closed=True,
                     facecolor="white", linewidth=0, zorder=4))

big = dict(family=["Liberation Sans", "DejaVu Sans"], fontsize=69.5, color="black",
           va="baseline", ha="left", zorder=20)
ov.text(40, 482, slide_title, **big)
for yb, s in zip([595, 709, 823], slide_bullets):
    ov.text(40, yb, "-", **big)
    ov.text(131, yb, s, **big)
ov.set_xlim(0, W)
ov.set_ylim(H, 0)

fig.savefig("out.png", dpi=100)
